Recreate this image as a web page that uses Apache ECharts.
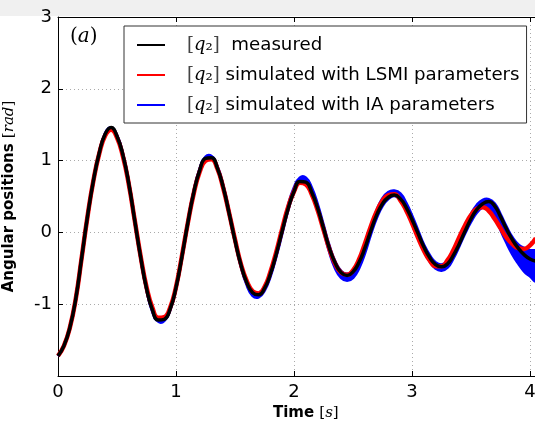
<!DOCTYPE html>
<html><head><meta charset="utf-8">
<script src="https://cdn.jsdelivr.net/npm/echarts@6/dist/echarts.min.js"></script>
<style>html,body{margin:0;padding:0;background:#fff}#c{width:535px;height:422px}</style>
</head><body><div id="c"></div>
<script>
// sample times [s]
const timeS = [0.00,0.05,0.10,0.15,0.20,0.25,0.30,0.35,0.40,0.45,0.50,0.55,0.60,0.65,0.70,0.75,0.80,0.85,0.90,0.95,
  1.00,1.05,1.10,1.15,1.20,1.25,1.30,1.35,1.40,1.45,1.50,1.55,1.60,1.65,1.70,1.75,1.80,1.85,1.90,1.95,
  2.00,2.05,2.10,2.15,2.20,2.25,2.30,2.35,2.40,2.45,2.50,2.55,2.60,2.65,2.70,2.75,2.80,2.85,2.90,2.95,
  3.00,3.05,3.10,3.15,3.20,3.25,3.30,3.35,3.40,3.45,3.50,3.55,3.60,3.65,3.70,3.75,3.80,3.85,3.90,3.95,
  4.00,4.05];
// [q2] measured
const measuredY = [-1.72,-1.58,-1.33,-0.93,-0.36,0.22,0.72,1.11,1.37,1.46,1.34,1.08,0.68,0.17,-0.34,-0.78,-1.08,-1.22,-1.21,-1.07,
  -0.77,-0.34,0.13,0.55,0.86,1.03,1.04,0.90,0.63,0.27,-0.11,-0.45,-0.70,-0.84,-0.87,-0.78,-0.58,-0.30,0.02,0.33,
  0.57,0.71,0.70,0.56,0.34,0.06,-0.22,-0.43,-0.56,-0.60,-0.55,-0.42,-0.22,0.02,0.24,0.40,0.49,0.52,0.47,0.35,
  0.18,-0.01,-0.20,-0.35,-0.45,-0.48,-0.44,-0.32,-0.16,0.02,0.19,0.32,0.40,0.43,0.37,0.22,0.05,-0.10,-0.22,-0.31,
  -0.37,-0.40];
// [q2] simulated with LSMI parameters
const lsmiY = [-1.72,-1.58,-1.33,-0.93,-0.36,0.22,0.72,1.10,1.35,1.43,1.32,1.06,0.67,0.17,-0.33,-0.76,-1.05,-1.19,-1.18,-1.05,
  -0.76,-0.33,0.13,0.54,0.84,1.00,1.02,0.89,0.62,0.27,-0.10,-0.44,-0.68,-0.82,-0.85,-0.76,-0.55,-0.27,0.05,0.35,
  0.57,0.69,0.67,0.53,0.31,0.04,-0.23,-0.44,-0.56,-0.59,-0.53,-0.38,-0.16,0.08,0.29,0.44,0.52,0.53,0.45,0.31,
  0.13,-0.07,-0.25,-0.39,-0.47,-0.47,-0.39,-0.25,-0.07,0.10,0.24,0.33,0.35,0.30,0.19,0.06,-0.07,-0.16,-0.22,-0.23,
  -0.18,-0.08];
// [q2] simulated with IA parameters: spread of the trajectories (lower / upper edge)
const iaLo = [-1.72,-1.58,-1.33,-0.93,-0.36,0.22,0.72,1.10,1.36,1.44,1.33,1.07,0.67,0.16,-0.35,-0.79,-1.10,-1.24,-1.23,-1.08,
  -0.78,-0.35,0.12,0.54,0.85,1.02,1.03,0.89,0.62,0.26,-0.12,-0.47,-0.73,-0.88,-0.90,-0.81,-0.61,-0.33,-0.01,0.31,
  0.56,0.70,0.69,0.55,0.33,0.03,-0.27,-0.50,-0.63,-0.67,-0.63,-0.50,-0.29,-0.03,0.20,0.37,0.47,0.51,0.46,0.33,
  0.15,-0.05,-0.25,-0.40,-0.50,-0.53,-0.49,-0.36,-0.19,-0.01,0.15,0.28,0.35,0.36,0.24,0.04,-0.14,-0.30,-0.43,-0.54,
  -0.61,-0.67];
const iaHi = [-1.72,-1.58,-1.33,-0.93,-0.36,0.22,0.72,1.11,1.38,1.46,1.35,1.09,0.69,0.18,-0.33,-0.77,-1.07,-1.21,-1.20,-1.06,
  -0.76,-0.33,0.14,0.57,0.88,1.05,1.06,0.92,0.65,0.29,-0.09,-0.44,-0.69,-0.83,-0.85,-0.76,-0.56,-0.27,0.05,0.37,
  0.62,0.76,0.76,0.62,0.39,0.10,-0.19,-0.41,-0.54,-0.58,-0.53,-0.39,-0.18,0.07,0.30,0.47,0.56,0.58,0.54,0.41,
  0.23,0.03,-0.17,-0.32,-0.42,-0.45,-0.40,-0.27,-0.10,0.08,0.25,0.38,0.45,0.46,0.40,0.25,0.08,-0.07,-0.17,-0.22,
  -0.25,-0.27];
const xTicks = [0,1,2,3,4];
const yTicks = [-1,0,1,2,3];
const legendLabels = {measured:' measured', LSMI:'simulated with LSMI parameters', IA:'simulated with IA parameters'};

const zip = (a,b) => a.map((v,i)=>[v,b[i]]);
const iaMid = iaLo.map((v,i)=>(v+iaHi[i])/2);

const chart = echarts.init(document.getElementById('c'));
const axisCol = '#000';
const tickFont = {fontFamily:'DejaVu Sans', fontSize:18, color:'#000'};
const SM = 0.5;
chart.setOption({
  animation:false,
  textStyle:{fontFamily:'DejaVu Sans'},
  graphic:[
    {type:'rect', left:0, top:0, z:-10, shape:{x:0,y:0,width:535,height:16}, style:{fill:'#f0f0f0'}},
    {type:'text', left:70, top:27, z:10, style:{text:'{p|(}{a|a}{p|)}', rich:{p:{fontFamily:'DejaVu Serif',fontSize:20,fill:'#000'},a:{fontFamily:'DejaVu Serif',fontStyle:'italic',fontSize:20,fill:'#000'}}}}
  ],
  grid:{left:58, top:17, bottom:46, right:-18.6, containLabel:false, outerBoundsMode:'none'},
  legend:{
    data:['measured','LSMI','IA'],
    orient:'vertical', left:124, top:26,
    padding:[10,7,9,13], itemGap:12, itemWidth:28, itemHeight:2, icon:'rect',
    borderColor:'#333', borderWidth:1, backgroundColor:'#fff',
    formatter: n => '{b|[}{q|q}{s|₂}{b|]}{t| '+legendLabels[n]+'}',
    textStyle:{fontSize:18, color:'#000', padding:[0,0,0,17], rich:{
      b:{fontFamily:'DejaVu Serif', fontSize:18, color:'#444'},
      q:{fontFamily:'DejaVu Serif', fontStyle:'italic', fontSize:18, color:'#000'},
      s:{fontFamily:'DejaVu Serif', fontSize:18, color:'#000'},
      t:{fontFamily:'DejaVu Sans', fontSize:18.2, color:'#000'}
    }}
  },
  xAxis:[{
    type:'value', min:0, max:4.2, interval:1, position:'bottom',
    axisLine:{show:true, onZero:false, lineStyle:{color:axisCol, width:1}},
    axisTick:{show:true, inside:true, length:5, lineStyle:{color:axisCol}},
    axisLabel:Object.assign({margin:7, showMaxLabel:false, formatter:v=>xTicks.includes(v)?String(v):''}, tickFont),
    splitLine:{show:true, lineStyle:{color:'#aaa', type:[1,3], width:1}},
    name:'{b|Time }{m|[}{i|s}{m|]}', nameLocation:'middle', nameGap:30,
    nameTextStyle:{rich:{
      b:{fontFamily:'DejaVu Sans', fontWeight:'bold', fontSize:15, color:'#000'},
      m:{fontFamily:'DejaVu Serif', fontSize:15, color:'#000'},
      i:{fontFamily:'DejaVu Serif', fontStyle:'italic', fontSize:15, color:'#000'}}}
  },{
    type:'value', min:0, max:4.2, interval:1, position:'top',
    axisLine:{show:true, onZero:false, lineStyle:{color:axisCol, width:1}},
    axisTick:{show:true, inside:true, length:5, lineStyle:{color:axisCol}},
    axisLabel:{show:false}, splitLine:{show:false}
  }],
  yAxis:[{
    type:'value', min:-2, max:3, interval:1,
    axisLine:{show:true, onZero:false, lineStyle:{color:axisCol, width:1}},
    axisTick:{show:true, inside:true, length:5, lineStyle:{color:axisCol}},
    axisLabel:Object.assign({margin:6, showMinLabel:false, formatter:v=>yTicks.includes(v)?String(v):''}, tickFont),
    splitLine:{show:true, lineStyle:{color:'#aaa', type:[1,3], width:1}},
    name:'{b|Angular positions }{m|[}{i|rad}{m|]}', nameLocation:'middle', nameGap:41,
    nameTextStyle:{rich:{
      b:{fontFamily:'DejaVu Sans', fontWeight:'bold', fontSize:15, color:'#000'},
      m:{fontFamily:'DejaVu Serif', fontSize:15, color:'#000'},
      i:{fontFamily:'DejaVu Serif', fontStyle:'italic', fontSize:15, color:'#000'}}}
  }],
  series:[
    {name:'IA band', type:'custom', xAxisIndex:0, yAxisIndex:0, data:[[0,0]], z:2, silent:true,
      renderItem:(params, api)=>{
        const up = timeS.map((t,i)=>api.coord([t, iaHi[i]]));
        const dn = timeS.map((t,i)=>api.coord([t, iaLo[i]])).reverse();
        return {type:'polygon', shape:{points:up.concat(dn), smooth:0.5},
          style:{fill:'#0000ff', stroke:'#0000ff', lineWidth:3}};
      }},
    {name:'IA', type:'line', data:zip(timeS, iaMid), symbol:'none', smooth:SM, z:3,
      color:'#0000ff', lineStyle:{color:'#0000ff', width:3}},
    {name:'LSMI', type:'line', data:zip(timeS, lsmiY), symbol:'none', smooth:SM, z:4,
      color:'#ff0000', lineStyle:{color:'#ff0000', width:4.5}},
    {name:'measured', type:'line', data:zip(timeS, measuredY), symbol:'none', smooth:SM, z:5,
      color:'#000', lineStyle:{color:'#000', width:3.5}}
  ]
});
</script></body></html>
